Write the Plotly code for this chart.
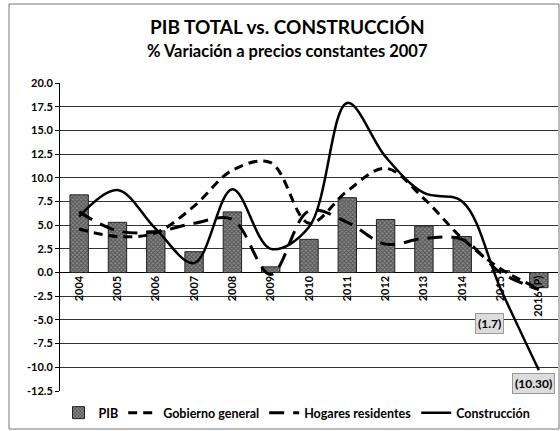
import plotly.graph_objects as go

years = ["2004", "2005", "2006", "2007", "2008", "2009", "2010",
         "2011", "2012", "2013", "2014", "2015", "2016 (P)"]
pib = [8.2, 5.3, 4.4, 2.2, 6.4, 0.6, 3.5, 7.9, 5.6, 4.9, 3.8, 0.2, -1.6]
gobierno = [4.6, 3.8, 4.2, 7.0, 10.8, 11.6, 5.2, 8.6, 11.0, 7.8, 3.6, 0.4, -1.7]
hogares = [6.4, 4.4, 4.3, 5.2, 5.6, -0.2, 6.5, 5.3, 3.0, 3.6, 3.5, 0.0, -1.8]
construccion = [5.9, 8.7, 4.6, 1.0, 8.8, 2.5, 4.8, 17.9, 12.2, 8.4, 7.5, -1.7, -10.3]
yticks = [20.0, 17.5, 15.0, 12.5, 10.0, 7.5, 5.0, 2.5, 0.0, -2.5, -5.0, -7.5, -10.0, -12.5]

FONT = "Lato"
W, H = 560, 431
L, R, T, B = 60, 2, 83, 40

def px_x(p):
    return (p - L) / (W - L - R)

def px_y(p):
    return (H - B - p) / (H - T - B)

fig = go.Figure()
fig.add_trace(go.Bar(
    x=years, y=pib, name="<b>PIB</b>",
    marker=dict(color="#707070", line=dict(color="#222", width=1),
                pattern=dict(shape="x", fgcolor="#1a1a1a", bgcolor="#888888",
                             size=3, solidity=0.5)),
))
fig.add_trace(go.Scatter(
    x=years, y=gobierno, name="<b>Gobierno general</b>", mode="lines",
    line=dict(color="black", width=3, dash="9px,6px", shape="spline"),
))
fig.add_trace(go.Scatter(
    x=years, y=hogares, name="<b>Hogares residentes</b>", mode="lines",
    line=dict(color="black", width=3, dash="15px,9px", shape="spline"),
))
fig.add_trace(go.Scatter(
    x=years, y=construccion, name="<b>Construcción</b>", mode="lines",
    line=dict(color="black", width=2.5, shape="spline"),
))

for idx, yshift, xshift in [(11, -35, -11), (12, -13, -5)]:
    v = construccion[idx]
    txt = "(%s)" % ("%.1f" % abs(v) if idx == 11 else "%.2f" % abs(v))
    fig.add_annotation(x=idx, y=v, text="<b>%s</b>" % txt,
                       showarrow=False, xshift=xshift, yshift=yshift,
                       font=dict(family=FONT, size=12, color="black"),
                       bgcolor="#dcdcdc", bordercolor="#999", borderwidth=1,
                       borderpad=2)

fig.add_annotation(x=px_x(287), y=px_y(27), xref="paper", yref="paper",
                   xanchor="center", yanchor="middle",
                   text="<b>PIB TOTAL vs. CONSTRUCCIÓN</b>", showarrow=False,
                   font=dict(family=FONT, size=19, color="black"))
fig.add_annotation(x=px_x(287), y=px_y(51), xref="paper", yref="paper",
                   xanchor="center", yanchor="middle",
                   text="<b>% Variación a precios constantes 2007</b>", showarrow=False,
                   font=dict(family=FONT, size=16.5, color="black"))

fig.add_shape(type="rect", xref="paper", yref="paper",
              x0=px_x(9), x1=px_x(559), y0=px_y(429), y1=px_y(4),
              line=dict(color="#777", width=1))

fig.update_layout(
    width=W, height=H,
    margin=dict(l=L, r=R, t=T, b=B),
    paper_bgcolor="white", plot_bgcolor="white",
    bargap=0.52,
    showlegend=True,
    legend=dict(orientation="h", x=px_x(297), y=px_y(413), xanchor="center",
                yanchor="middle", font=dict(family=FONT, size=12.5, color="black"),
                itemwidth=30, tracegroupgap=0, traceorder="normal"),
    font=dict(family=FONT, color="black"),
)
fig.update_yaxes(range=[-12.5, 20], tickvals=yticks,
                 ticktext=["<b>%.1f</b>" % v for v in yticks],
                 showgrid=True, gridcolor="#333", gridwidth=1,
                 showline=True, linecolor="black", linewidth=1,
                 ticks="outside", ticklen=4, tickcolor="black",
                 zeroline=True, zerolinecolor="black", zerolinewidth=1,
                 tickfont=dict(family=FONT, size=11, color="black"))
fig.update_xaxes(type="category", tickangle=-90, range=[-0.5, 12.5],
                 categoryorder="array", categoryarray=years,
                 ticktext=["<b>%s</b>" % y for y in years], tickvals=years,
                 anchor="free", position=12.5 / 32.5,
                 showline=False, ticks="", showgrid=False,
                 tickfont=dict(family=FONT, size=11, color="black"))

fig.write_html("out.html", config={"displayModeBar": False},
               post_script="document.body.style.margin='0';")
